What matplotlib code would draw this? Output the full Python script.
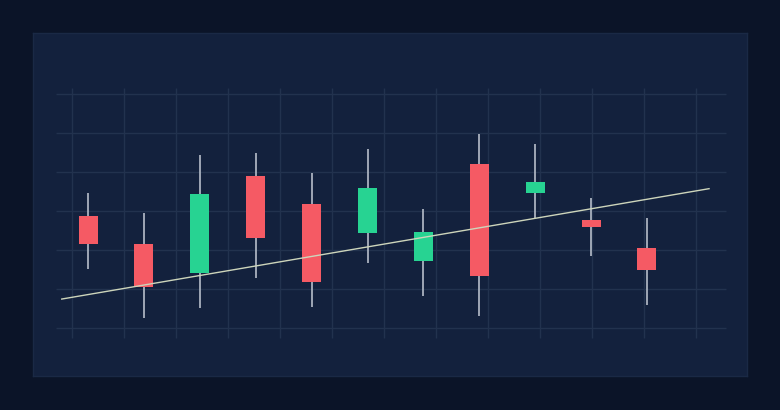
import numpy as np
import matplotlib.pyplot as plt

# candle data
opens  = [128.8, 121.6, 114.3, 139.1, 131.9, 124.4, 117.3, 142.1, 134.6, 127.8, 120.6]
highs  = [134.8, 129.6, 144.4, 144.9, 139.7, 145.9, 130.6, 149.8, 147.3, 133.3, 128.2]
lows   = [115.2, 102.7, 105.1, 112.8, 105.5, 116.8, 108.3, 103.2, 128.2, 118.5, 106.0]
closes = [121.6, 110.5, 134.5, 123.1, 111.9, 136.1, 124.8, 113.4, 137.6, 126.1, 114.9]

# trend line end points
trend_x = [-0.47, 11.11]
trend_y = [107.5, 135.8]

up_col = '#27d392'
down_col = '#f55a64'

fig = plt.figure(figsize=(7.8, 4.1001), dpi=100, facecolor='#0b1428')
ax = fig.add_axes([33/780, 34/410, 714/780, 343/410], facecolor='#13213d')

x = np.arange(len(opens))

# grid
ax.hlines(np.arange(100, 161, 10), -0.572, 11.41, color='#22324e', lw=1, zorder=1)
ax.vlines(-0.286 + 0.930*np.arange(13), 97.5, 161.6, color='#22324e', lw=1, zorder=1)

# wicks
ax.vlines(x, lows, highs, color='#aab2bf', lw=1.3, zorder=2)

# bodies
bottoms = np.minimum(opens, closes)
heights = np.abs(np.array(closes) - np.array(opens))
colors = [up_col if c > o else down_col for o, c in zip(opens, closes)]
ax.bar(x, heights, bottom=bottoms, width=0.34, color=colors, zorder=3)

ax.plot(trend_x, trend_y, color='#cdd5bb', lw=1, zorder=4)

ax.set_xlim(-0.984, 11.789)
ax.set_ylim(87.77, 175.72)
ax.set_xticks([])
ax.set_yticks([])
for s in ax.spines.values():
    s.set_color('#1a2945')
    s.set_linewidth(1)

fig.savefig('out.png', dpi=100, facecolor=fig.get_facecolor())
